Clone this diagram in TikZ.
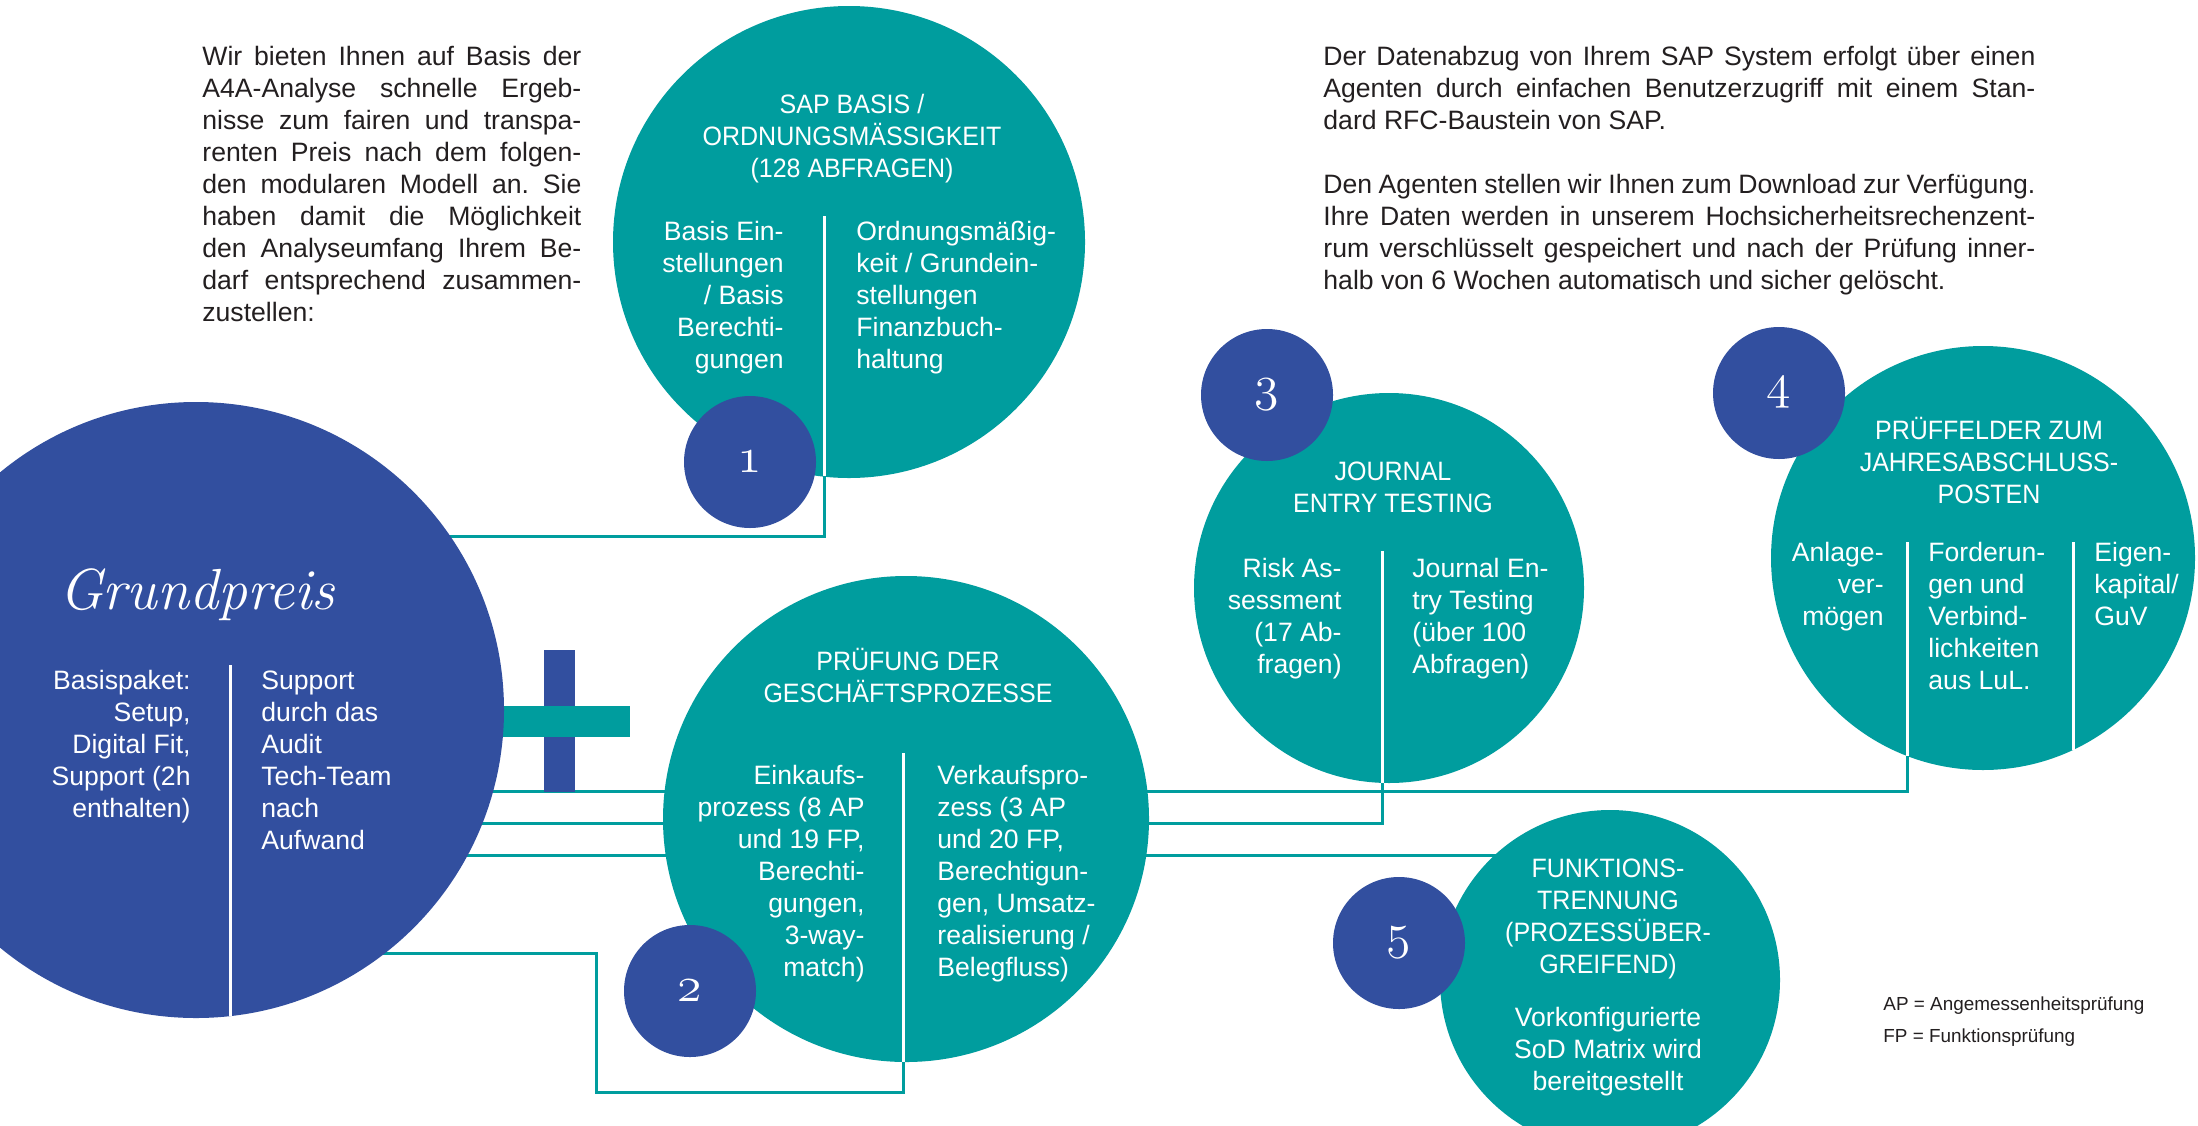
\documentclass[tikz,border=0pt]{standalone}
\usepackage{fontspec}
\setmainfont{Liberation Sans}
\newfontfamily\capsfont{Liberation Sans}[FakeStretch=0.94]
\definecolor{tealc}{RGB}{0,157,158}
\definecolor{bluec}{RGB}{50,79,159}
\definecolor{txtc}{RGB}{35,31,32}
\newcommand\fsn{\fontsize{13.3}{16}\selectfont}
\newcommand\jla[1]{\makebox[189.5pt][s]{#1}}
\newcommand\jlb[1]{\makebox[356pt][s]{#1}}
\newcommand\osnum[1]{{\fontsize{40}{40}\usefont{OML}{lmm}{m}{it}#1}}
\tikzset{
 tealcirc/.style={circle, fill=tealc, inner sep=0pt, draw=none},
 bluecirc/.style={circle, fill=bluec, inner sep=0pt, draw=none},
 numcirc/.style={bluecirc, minimum size=66pt, text=white},
 conn/.style={draw=tealc, line width=1.5pt},
 divider/.style={draw=white, line width=1.5pt},
 wt/.style={text=white, font=\fsn, inner sep=0pt},
 tt/.style={text=white, font=\capsfont\fsn, inner sep=0pt, align=center, anchor=base},
 bt/.style={text=txtc, font=\fsn, inner sep=0pt},
}
\begin{document}
\frenchspacing
\begin{tikzpicture}[x=0.5pt,y=-0.5pt]
\useasboundingbox (0,0) rectangle (2198,1125);
\clip (0,0) rectangle (2198,1125);
\fill[white] (0,0) rectangle (2198,1125);

\coordinate (Gc) at (196,710);
\coordinate (c1) at (824,536);
\coordinate (c2) at (1907,791);
\coordinate (c3) at (1382,823);
\coordinate (c4) at (0,855);
\coordinate (c5a) at (596,953);
\coordinate (c5b) at (903,1092);
\coordinate (sapc) at (849,242);
\coordinate (prc) at (906,819);
\coordinate (joc) at (1389,588);
\coordinate (pfc) at (1983,558);
\coordinate (fuc) at (1610,980);

% connectors (behind the circles)
\draw[conn] (Gc |- c1) -- (c1) -- (c1 |- sapc);
\draw[conn] (Gc |- c2) -- (c2) -- (c2 |- pfc);
\draw[conn] (Gc |- c3) -- (c3) -- (c3 |- joc);
\draw[conn] (Gc |- c4) -- (c4 -| fuc);
\draw[conn] (Gc |- c5a) -- (c5a) |- (c5b) -- (c5b |- prc);

% plus sign
\fill[bluec] (544,650) rectangle (575,792);
\fill[tealc] (480,706) rectangle (630,737);

% big circles
\node[bluecirc, minimum size=308pt] (G) at (Gc) {};
\node[tealcirc, minimum size=236pt] (sap) at (sapc) {};
\node[tealcirc, minimum size=243pt] (pr) at (prc) {};
\node[tealcirc, minimum size=195pt] (jo) at (joc) {};
\node[tealcirc, minimum size=212pt] (pf) at (pfc) {};
\node[tealcirc, minimum size=170pt] (fu) at (fuc) {};

% dividers
\draw[divider] (230,665) -- (230,1016);
\draw[divider] (824,216) -- (824,476);
\draw[divider] (903,753) -- (903,1062);
\draw[divider] (1382,551) -- (1382,783);
\draw[divider] (1907,542) -- (1907,756);
\draw[divider] (2073,542) -- (2073,750);

% number circles
\node[numcirc] (n1) at (750,462) {\osnum{1}};
\node[numcirc] (n2) at (690,991) {\osnum{2}};
\node[numcirc] (n3) at (1267,395) {\osnum{3}};
\node[numcirc] (n4) at (1779,393) {\osnum{4}};
\node[numcirc] (n5) at (1399,943) {\osnum{5}};

% paragraphs (base anchor = baseline of last line)
\node[bt, anchor=base west, align=left] (ptxt1) at (202,321) {%
\jla{Wir bieten Ihnen auf Basis der}\\
\jla{A4A-Analyse schnelle Ergeb-}\\
\jla{nisse zum fairen und transpa-}\\
\jla{renten Preis nach dem folgen-}\\
\jla{den modularen Modell an. Sie}\\
\jla{haben damit die Möglichkeit}\\
\jla{den Analyseumfang Ihrem Be-}\\
\jla{darf entsprechend zusammen-}\\
zustellen:};

\node[bt, anchor=base west, align=left] (ptxt2) at (1323,289) {%
\jlb{Der Datenabzug von Ihrem SAP System erfolgt über einen}\\
\jlb{Agenten durch einfachen Benutzerzugriff mit einem Stan-}\\
dard RFC-Baustein von SAP.\\[16pt]
\jlb{Den Agenten stellen wir Ihnen zum Download zur Verfügung.}\\
\jlb{Ihre Daten werden in unserem Hochsicherheitsrechenzent-}\\
\jlb{rum verschlüsselt gespeichert und nach der Prüfung inner-}\\
halb von 6 Wochen automatisch und sicher gelöscht.};

% SAP circle texts
\node[tt] (saptitle) at (852,177) {SAP BASIS /\\ORDNUNGSMÄSSIGKEIT\\(128 ABFRAGEN)};
\node[wt, anchor=base east, align=right] (sapl) at (784,368) {Basis Ein-\\stellungen\\/ Basis\\Berechti-\\gungen};
\node[wt, anchor=base west, align=left] (sapr) at (856,368) {Ordnungsmäßig-\\keit / Grundein-\\stellungen\\Finanzbuch-\\haltung};

% Grundpreis texts
\node[wt, anchor=base, font=\fontfamily{lmr}\fontsize{29}{29}\selectfont\itshape] (gtitle) at (197,609) {Grundpreis};
\node[wt, anchor=base east, align=right] (gl) at (191,817) {Basispaket:\\Setup,\\Digital Fit,\\Support (2h\\enthalten)};
\node[wt, anchor=base west, align=left] (gr) at (261,849) {Support\\durch das\\Audit\\Tech-Team\\nach\\Aufwand};

% Pruefung texts
\node[tt] (prtitle) at (908,702) {PRÜFUNG DER\\GESCHÄFTSPROZESSE};
\node[wt, anchor=base east, align=right] (prl) at (865,976) {Einkaufs-\\prozess (8 AP\\und 19 FP,\\Berechti-\\gungen,\\3-way-\\match)};
\node[wt, anchor=base west, align=left] (prr) at (937,976) {Verkaufspro-\\zess (3 AP\\und 20 FP,\\Berechtigun-\\gen, Umsatz-\\realisierung /\\Belegfluss)};

% Journal texts
\node[tt] (jotitle) at (1393,512) {JOURNAL\\ENTRY TESTING};
\node[wt, anchor=base east, align=right] (jol) at (1342,673) {Risk As-\\sessment\\(17 Ab-\\fragen)};
\node[wt, anchor=base west, align=left] (jor) at (1412,673) {Journal En-\\try Testing\\(über 100\\Abfragen)};

% Prueffelder texts
\node[tt] (pftitle) at (1989,503) {PRÜFFELDER ZUM\\JAHRESABSCHLUSS-\\POSTEN};
\node[wt, anchor=base east, align=right] (pfl) at (1884,625) {Anlage-\\ver-\\mögen};
\node[wt, anchor=base west, align=left] (pfm) at (1928,689) {Forderun-\\gen und\\Verbind-\\lichkeiten\\aus LuL.};
\node[wt, anchor=base west, align=left] (pfr) at (2094,625) {Eigen-\\kapital/\\GuV};

% Funktionstrennung texts
\node[tt] (futitle) at (1608,973) {FUNKTIONS-\\TRENNUNG\\(PROZESSÜBER-\\GREIFEND)};
\node[wt, anchor=base, align=center] (futext) at (1608,1090) {Vorkonfigurierte\\SoD Matrix wird\\bereitgestellt};

% footnote
\node[bt, anchor=base west, align=left, font=\fontsize{9.45}{16}\selectfont] (fn) at (1883,1042) {AP = Angemessenheitsprüfung\\FP = Funktionsprüfung};
\end{tikzpicture}
\end{document}
